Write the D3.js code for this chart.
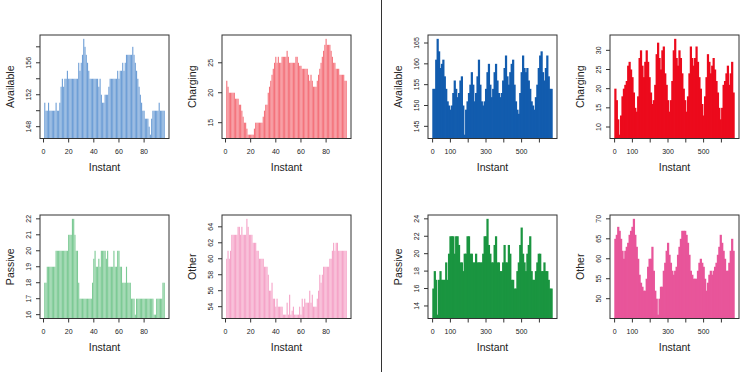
<!DOCTYPE html>
<meta charset="utf-8">
<head>
    <title>Station occupancy by instant</title>
    <script type="text/javascript" src="https://cdn.jsdelivr.net/npm/d3@7"></script>
    <style>
        body { margin: 0; background: white; }
        svg text { font-family: "Liberation Sans", Arial, sans-serif; fill: #222; }
    </style>
</head>
<body>
<script>

    // one day, 96 instants of 15 minutes
    var dayAvailable = [151,150,150,151,150,150,150,150,150,151, 150,150,151,153,154,153,154,154,155,154,
        154,154,154,154,154,154,154,156,155,156, 157,159,158,157,156,155,154,154,154,154,
        154,154,154,153,154,152,151,151,152,152, 152,153,154,154,154,154,154,154,155,154,
        155,155,156,155,156,157,157,157,157,157, 158,157,156,155,154,153,152,151,150,150,
        149,149,149,148,147,149,150,150,150,150, 150,151,150,150,150,150]
    var dayCharging = [22,21,20,20,20,20,20,19,19,19, 18,18,17,16,15,15,14,13,13,13,
        13,13,14,15,15,15,15,15,15,16, 17,18,18,20,21,22,23,24,25,26,
        25,26,25,25,26,26,26,26,27,26, 25,25,25,25,25,26,26,25,24.5,24.5,
        24,24,24,24,24,23,22,23,22,21, 21,21,22,23,24,25,26,27,28,29,
        28,28,28,27,26,25,25,24,24,24, 23,23,23,23,22,22]
    var dayPassive = [18,18,19,19,19,19,19,19,19,20, 20,20,20,20,20,20,20,20,20,21,
        21,21,22,22,21,20,20,18,17,17, 17,17,17,17,17,17,17,17,18,19.5,
        20,19,19,19.5,19,20,20,20,20,19.5, 20,19,19,19,19,20,19,19,20,20,
        19,19,18,18,18,19,18,18,18,17, 17,17,16,17,17,17,17,17,17,17,
        17,17,17,17,17,17,17,16,16,17, 17,17,17,17,18,18]
    var dayOther = [60,61,60,61,63,63,63,63,63,64, 64,63,64,63,63,63,65,64,63,63,
        63,62,62,62,61,61,60,60,60,60, 59,59,59,58,56,56,57,55,55,54,
        55,54,54,54,54,53,53,53,54.5,53, 55.5,53,53.5,54,53,53,53,53,54,53,
        55,54,55,54.5,54.5,54.5,56,54.5,55.5,54, 54,54,55,56,58,57,58,59,59,59,
        59,59,60,60,61,62,61,62,62,61, 61,61,61,61,61,61]

    // one week, 672 instants; one value per block of 8 instants (2 hours)
    var weekAvailable = [154,154,161,166,163,159,160,161,157,154, 151,150,149,150,153,156,154,152,153,156,
        157,150,143,149,151,153,155,158,155,151, 153,157,161,155,151,150,151,154,158,160,
        155,152,154,158,160,156,153,152,153,156, 159,162,157,155,158,160,161,155,151,149,
        148,153,158,162,159,158,159,156,154,151, 150,149,152,155,159,162,163,158,156,159,
        162,157,154,154]
    var weekCharging = [20,17,12,8,13,18,20,21,22,26, 27,25,23,19,15,14,18,28,30,26,
        23,27,30,27,23,19,16,17,21,29, 32,28,25,30,31,24,21,17,14,17,
        22,30,33,28,26,30,28,24,20,17, 14,18,24,31,28,26,28,31,27,23,
        20,16,13,18,23,29,27,24,26,28, 25,22,19,15,12,15,21,22,24,26,
        21,24,27,19]
    var weekPassive = [16,18,17,13,17,18,17,17,17,19, 17,20,22,22,22,20,22,22,21,19,
        19,18,20,20,22,22,20,20,19,19, 20,19,19,19,19,20,22,22,24,21,
        20,19,19,21,22,19,19,18,18,19, 21,19,19,21,20,17,17,16,16,18,
        19,21,23,20,19,18,20,21,22,18, 17,17,18,19,20,20,18,18,19,18,
        18,17,16,16]
    var weekOther = [65,66,68,67,65,62,60,62,63,64, 66,67,68,70,66,63,60,56,54,53,
        52,52,55,58,60,60,63,57,52,50, 46,50,53,53,57,59,62,64,61,59,
        57,56,57,58,61,63,65,67,67,67, 66,64,61,57,56,55,55,55,57,59,
        60,59,58,55,52,54,56,57,56,57, 58,59,61,63,66,64,62,60,57,57,
        59,62,65,62]

    var labels = ["Available", "Charging", "Passive", "Other"]
    var dayColors = ["#6f9fd6", "#f4737c", "#7dca95", "#f5a4c8"]
    var weekColors = ["#125cae", "#ec0a1c", "#1a9540", "#e8559a"]
    var dayData = [dayAvailable, dayCharging, dayPassive, dayOther]
    var weekData = [weekAvailable, weekCharging, weekPassive, weekOther]
    var blockSize = 8

    var w = 742, h = 372
    var boxW = 129, boxH = 103.5
    var dayLefts = [40, 222], weekLefts = [428, 610], tops = [35, 215]
    var clipCount = 0

    var svg = d3.select("body").append("svg")
        .attr("width", w)
        .attr("height", h)

    // separator between the day and the week
    svg.append("line")
        .attr("x1", 381.5).attr("x2", 381.5)
        .attr("y1", 0).attr("y2", h)
        .attr("stroke", "#333")
        .attr("stroke-width", 1)

    // R style 4% padding
    function pad(ext) {
        var d = (ext[1] - ext[0]) * 0.04
        return [ext[0] - d, ext[1] + d]
    }

    // hide labels that would overlap, like R does
    function dropOverlaps(sel, pos, gap) {
        var lastP = null, lastL = 0
        sel.each(function (d) {
            var len = this.getComputedTextLength()
            var p = pos(d)
            if (lastP !== null && Math.abs(p - lastP) < len / 2 + lastL / 2 + gap) {
                d3.select(this).remove()
            } else {
                lastP = p
                lastL = len
            }
        })
    }

    function drawPanel(left, top, values, step, label, color, xCount) {
        var total = values.length * step
        var g = svg.append("g").attr("transform", "translate(" + left + "," + top + ")")

        var x = d3.scaleLinear().domain(pad([1, total])).range([0, boxW])
        var y = d3.scaleLinear().domain(pad(d3.extent(values))).range([boxH, 0])

        var clipId = "clip" + (clipCount++)
        g.append("clipPath").attr("id", clipId)
            .append("rect").attr("width", boxW).attr("height", boxH)

        // day bars are thin with a hairline gap, week blocks overlap so the fill is solid
        var barW = step == 1 ? 1.12 : x(step) - x(0) + 0.8
        g.append("g")
            .attr("clip-path", "url(#" + clipId + ")")
            .selectAll("rect")
            .data(values)
            .enter()
            .append("rect")
            .attr("x", function (d, i) { return step == 1 ? x(i + 1) - barW / 2 : x(i * step + 0.5) - 0.4 })
            .attr("width", barW)
            .attr("y", function (d) { return y(d) })
            .attr("height", function (d) { return boxH - y(d) + 2 })
            .attr("fill", color)

        // box
        g.append("rect")
            .attr("width", boxW).attr("height", boxH)
            .attr("fill", "none")
            .attr("stroke", "#333")
            .attr("stroke-width", 1)

        // x axis
        var xt = x.ticks(xCount).filter(function (t) { return t >= x.domain()[0] && t <= x.domain()[1] })
        g.selectAll(".xtick").data(xt).enter().append("line")
            .attr("x1", function (d) { return x(d) }).attr("x2", function (d) { return x(d) })
            .attr("y1", boxH).attr("y2", boxH + 4)
            .attr("stroke", "#333")
        var xl = g.selectAll(".xlab").data(xt).enter().append("text")
            .attr("x", function (d) { return x(d) })
            .attr("y", boxH + 15.5)
            .attr("text-anchor", "middle")
            .attr("font-size", 7)
            .text(function (d) { return d })
        dropOverlaps(xl, x, 7)

        // y axis
        var yt = y.ticks(5).filter(function (t) { return t >= y.domain()[0] && t <= y.domain()[1] })
        g.selectAll(".ytick").data(yt).enter().append("line")
            .attr("y1", function (d) { return y(d) }).attr("y2", function (d) { return y(d) })
            .attr("x1", 0).attr("x2", -4)
            .attr("stroke", "#333")
        var yl = g.selectAll(".ylab").data(yt).enter().append("text")
            .attr("transform", function (d) { return "translate(-9," + y(d) + ") rotate(-90)" })
            .attr("text-anchor", "middle")
            .attr("font-size", 7)
            .text(function (d) { return d })
        dropOverlaps(yl, y, 7)

        g.append("text")
            .attr("x", boxW / 2)
            .attr("y", boxH + 32.5)
            .attr("text-anchor", "middle")
            .attr("font-size", 10.5)
            .text("Instant")

        g.append("text")
            .attr("transform", "translate(-26," + (boxH / 2) + ") rotate(-90)")
            .attr("text-anchor", "middle")
            .attr("font-size", 10.5)
            .text(label)
    }

    for (var k = 0; k < 4; k++) {
        var col = k % 2, row = Math.floor(k / 2)
        drawPanel(dayLefts[col], tops[row], dayData[k], 1, labels[k], dayColors[k], 5)
        drawPanel(weekLefts[col], tops[row], weekData[k], blockSize, labels[k], weekColors[k], 7)
    }

</script>
</body>
</html>
